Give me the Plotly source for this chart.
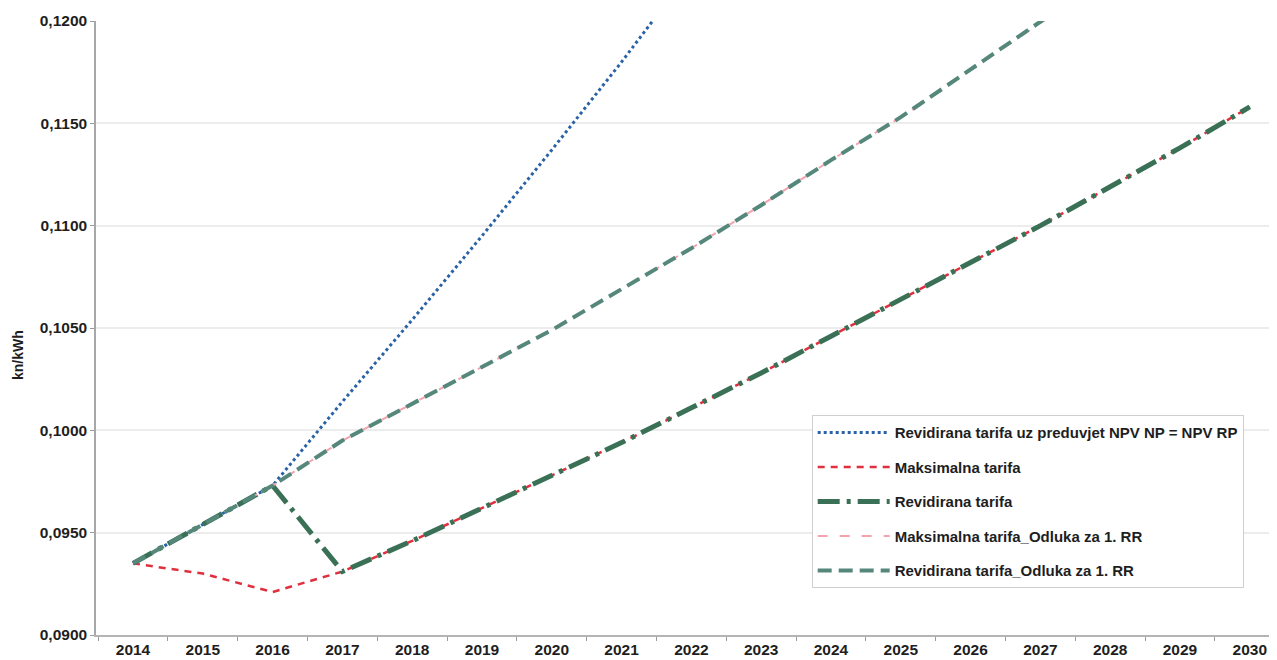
import plotly.graph_objects as go

years = [str(y) for y in range(2014, 2031)]

# Revidirana tarifa uz preduvjet NPV NP = NPV RP (continues beyond the 0,1200 axis limit)
blue_years = years[:9]
blue_vals = [0.0935, 0.0954, 0.0973, 0.1014, 0.1054, 0.1095, 0.1137, 0.1180, 0.1225]

# Maksimalna tarifa
red_vals = [0.0935, 0.0930, 0.0921, 0.0931, 0.0946, 0.0962, 0.0978, 0.0994, 0.1011,
            0.1028, 0.1046, 0.1064, 0.1082, 0.1100, 0.1119, 0.1138, 0.1158]

# Revidirana tarifa
green_vals = [0.0935, 0.0954, 0.0973, 0.0931, 0.0946, 0.0962, 0.0978, 0.0994, 0.1011,
              0.1028, 0.1046, 0.1064, 0.1082, 0.1100, 0.1119, 0.1138, 0.1158]

# Odluka za 1. RR series (continue beyond the axis limit)
rr_years = years[:15]
pink_vals = [0.0935, 0.0954, 0.0973, 0.0995, 0.1013, 0.1031, 0.1049, 0.1069, 0.1089,
             0.1110, 0.1132, 0.1153, 0.1176, 0.1199, 0.1223]
teal_vals = [0.0935, 0.0954, 0.0973, 0.0995, 0.1013, 0.1031, 0.1049, 0.1069, 0.1089,
             0.1110, 0.1132, 0.1153, 0.1176, 0.1199, 0.1223]

names = [
    "Revidirana tarifa uz preduvjet NPV NP = NPV RP",
    "Maksimalna tarifa",
    "Revidirana tarifa",
    "Maksimalna tarifa_Odluka za 1. RR",
    "Revidirana tarifa_Odluka za 1. RR",
]

FONT = "Liberation Sans"

fig = go.Figure()
fig.add_trace(go.Scatter(x=blue_years, y=blue_vals, mode="lines", name=names[0], legendgroup="a",
                         line=dict(color="#2a62a8", width=3, dash="3px,3px")))
fig.add_trace(go.Scatter(x=years, y=red_vals, mode="lines", name=names[1], legendgroup="b",
                         line=dict(color="#e0303f", width=2.5, dash="7px,6px")))
fig.add_trace(go.Scatter(x=years, y=green_vals, mode="lines", name=names[2], legendgroup="c",
                         line=dict(color="#3a7156", width=5, dash="22px,7px,4px,7px")))
fig.add_trace(go.Scatter(x=rr_years, y=pink_vals, mode="lines", name=names[3], legendgroup="d",
                         line=dict(color="#f4a3ae", width=2, dash="10px,12px")))
fig.add_trace(go.Scatter(x=rr_years, y=teal_vals, mode="lines", name=names[4], legendgroup="e",
                         line=dict(color="#55877b", width=4, dash="14px,7px")))

fig.update_layout(
    width=1269, height=652,
    margin=dict(l=88, r=0, t=13, b=25),
    paper_bgcolor="white", plot_bgcolor="white",
    separators=",.",
    font=dict(family=FONT, size=15, color="#1e1e1e", weight="bold"),
    showlegend=True,
    legend=dict(
        x=0.606, y=0.358, xanchor="left", yanchor="top",
        bgcolor="white", bordercolor="#cfcfcf", borderwidth=1,
        font=dict(family=FONT, size=15, color="#1e1e1e", weight="bold"),
        tracegroupgap=12, itemwidth=72,
        entrywidth=455, entrywidthmode="pixels",
    ),
    xaxis=dict(
        type="category", categoryorder="array", categoryarray=years,
        range=[-0.53, 16.39],
        showgrid=False, showline=True, linecolor="#b4b4b4", linewidth=1.5,
        ticks="outside", ticklen=4, tickcolor="#9a9a9a", tickson="boundaries",
        tickfont=dict(family=FONT, size=15.5, color="#1e1e1e", weight="bold"),
        zeroline=False, fixedrange=True,
    ),
    yaxis=dict(
        range=[0.09, 0.12], tick0=0.09, dtick=0.005, tickformat=".4f",
        showgrid=True, gridcolor="#ececec", gridwidth=2,
        showline=True, linecolor="#a8a8a8", linewidth=1.5,
        ticks="outside", ticklen=4, tickcolor="#9a9a9a",
        tickfont=dict(family=FONT, size=15.5, color="#1e1e1e", weight="bold"),
        zeroline=False, fixedrange=True,
    ),
    annotations=[dict(
        text="kn/kWh", textangle=-90, xref="paper", yref="paper",
        x=-0.066, y=0.456, xanchor="center", yanchor="middle", showarrow=False,
        font=dict(family=FONT, size=14, color="#1e1e1e", weight="bold"),
    )],
)

fig.write_html("out.html")
